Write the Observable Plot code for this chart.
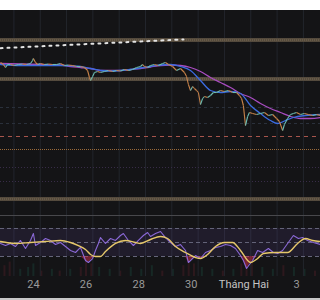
<!DOCTYPE html>
<html><head><meta charset="utf-8">
<script src="https://cdn.jsdelivr.net/npm/d3@7"></script>
<script src="https://cdn.jsdelivr.net/npm/@observablehq/plot@0.6"></script>
<style>
html,body{margin:0;padding:0;background:#fff;}
#wrap{position:relative;width:320px;height:300px;overflow:hidden;background:#fff;font-family:Roboto,"Noto Sans",sans-serif;}
#dark{position:absolute;left:0;top:10px;width:320px;height:288px;background:#141416;}
#bottomline{position:absolute;left:0;top:298px;width:320px;height:2px;background:#c8c8c8;}
#sep{position:absolute;left:0;top:215px;width:320px;height:1px;background:#48484c;}
</style></head>
<body><div id="wrap"><div id="dark"></div><div id="bottomline"></div></div>
<script>
// ---- data ----
const xDomain = [22.75, 34.91];
const gridDays = [23.26,24.26,25.26,26.26,27.26,28.26,29.26,30.26,31.26,32.26,33.26,34.26];
const tickDays = [24, 26, 28, 30, 32, 34];
const tickLabels = ["24", "26", "28", "30", "Tháng Hai", "3"];

const priceDays = [
22.75,22.86,22.94,23.02,23.13,23.28,23.43,23.59,23.74,23.89,
23.97,24.00,24.08,24.16,24.27,24.42,24.57,24.73,24.88,25.03,
25.18,25.33,25.49,25.64,25.79,25.94,26.06,26.13,26.17,26.25,
26.32,26.44,26.55,26.70,26.85,27.01,27.16,27.31,27.46,27.61,
27.77,27.92,28.07,28.15,28.22,28.34,28.45,28.60,28.75,28.91,
29.02,29.13,29.29,29.44,29.59,29.74,29.82,29.89,29.97,30.05,
30.12,30.20,30.27,30.35,30.43,30.50,30.62,30.73,30.84,30.96,
31.11,31.26,31.41,31.57,31.72,31.83,31.91,31.98,32.06,32.14,
32.21,32.33,32.48,32.63,32.78,32.93,33.09,33.24,33.35,33.47,
33.54,33.66,33.77,33.88,34.00,34.15,34.30,34.45,34.61,34.76,
34.91];
const prices = [
44.8,44.6,44.3,44.6,44.6,44.5,44.6,44.65,44.6,44.7,
45.0,45.2,44.8,44.6,44.7,44.6,44.65,44.6,44.6,44.7,
44.5,44.55,44.5,44.4,44.4,44.3,44.0,43.3,43.0,43.4,
43.8,43.9,43.8,43.9,44.0,43.9,44.0,43.95,44.1,44.0,
44.1,44.3,44.4,44.6,44.4,44.3,44.5,44.6,44.5,44.7,
44.8,44.6,44.4,44.0,44.2,43.8,43.4,42.6,42.0,42.4,
42.2,42.0,41.8,40.6,41.2,41.4,41.3,41.5,41.8,41.8,
42.0,41.9,42.0,41.8,41.8,41.5,41.2,40.5,38.5,39.4,
39.8,39.7,39.6,39.7,39.8,39.5,39.6,39.2,38.9,38.0,
38.6,39.2,39.6,39.7,39.8,39.6,39.7,39.6,39.5,39.6,
39.5];

const blueDays = [22.75,23.51,24.27,25.03,25.79,26.17,26.55,26.93,27.31,27.69,28.07,28.45,28.83,29.21,29.59,29.97,30.35,30.73,31.11,31.49,31.87,32.25,32.63,33.01,33.28,33.58,33.88,34.34,34.91];
const blueMA = [44.6,44.5,44.5,44.5,44.4,44.2,44.0,43.95,44.0,44.1,44.25,44.4,44.55,44.6,44.4,44.0,43.0,42.0,41.8,41.9,41.7,40.5,39.7,39.0,38.7,39.0,39.3,39.5,39.6];

const purpleDays = [22.75,23.51,24.27,25.03,25.41,25.79,26.17,26.55,26.93,27.31,27.69,28.07,28.45,28.83,29.21,29.59,29.97,30.35,30.73,31.11,31.49,31.87,32.25,32.63,33.01,33.39,33.77,34.15,34.53,34.91];
const purpleMA = [44.7,44.65,44.6,44.55,44.4,44.3,44.2,44.0,44.0,44.0,44.1,44.2,44.35,44.5,44.55,44.5,44.3,43.9,43.3,42.8,42.3,41.7,41.3,40.7,40.2,39.8,39.4,39.2,39.2,39.3];

const trendDays = [22.75, 29.70];
const trendPrices = [46.23, 47.11];

const bandLevels = [47.05, 43.15, 31.15];
const faintLevels = [40.3, 38.7];
const redDashLevels = [37.4];
const orangeDotLevels = [36.1];
const purpleLevels = [34.3, 32.9];

const rsiDays = [
22.75,22.94,23.13,23.32,23.51,23.70,23.89,24.00,24.08,24.27,
24.46,24.65,24.84,25.03,25.22,25.41,25.60,25.79,25.98,26.09,
26.25,26.36,26.47,26.55,26.74,26.93,27.12,27.31,27.42,27.61,
27.80,27.99,28.18,28.34,28.45,28.64,28.83,29.02,29.21,29.40,
29.59,29.78,29.89,29.97,30.16,30.35,30.54,30.73,30.92,31.11,
31.30,31.49,31.68,31.87,31.98,32.10,32.21,32.33,32.52,32.71,
32.93,33.12,33.28,33.47,33.66,33.88,34.07,34.23,34.42,34.64,
34.91];
const rsi = [
48.6,45.7,48.6,44.3,52.9,41.4,52.9,62.9,45.7,50.0,
55.7,52.9,47.1,50.0,44.3,38.6,35.7,42.9,24.3,21.4,
27.1,38.6,48.6,57.1,48.6,55.7,52.9,60.0,62.9,52.9,
45.7,52.9,60.0,64.3,58.6,62.9,65.7,57.1,50.0,44.3,
47.1,38.6,21.4,24.3,31.4,27.1,35.7,38.6,42.9,44.3,
47.1,45.7,41.4,31.4,24.3,12.9,18.6,24.3,38.6,35.7,
41.4,35.7,34.3,38.6,48.6,60.0,55.7,57.1,52.9,50.0,
47.1];

const rsiMaDays = [22.75,23.32,23.89,24.46,25.03,25.41,25.71,25.98,26.17,26.36,26.55,26.74,27.12,27.50,27.88,28.07,28.45,28.83,29.10,29.40,29.78,30.16,30.35,30.62,30.92,31.26,31.57,31.87,32.25,32.52,32.74,33.20,33.66,34.04,34.34,34.61,34.91];
const rsiMA = [51.4,48.6,50.0,51.4,52.9,50.0,45.7,40.0,32.9,30.0,30.0,37.1,48.6,52.9,50.0,48.6,54.3,58.6,55.7,44.3,35.7,28.6,27.1,32.9,44.3,50.0,50.0,38.6,21.4,27.1,34.3,35.7,35.7,48.6,55.7,52.9,51.4];

const rsiLevels = [70, 50, 30];

const volDays = [22.9,23.1,23.5,23.8,24.0,24.3,24.7,25.0,25.4,25.8,26.0,26.2,26.5,26.9,27.3,27.7,28.1,28.5,28.9,29.3,29.7,29.9,30.1,30.4,30.8,31.2,31.6,31.9,32.1,32.3,32.7,33.1,33.5,33.9,34.3,34.7];
const volumes = [6,8,4,5,7,3,4,3,4,5,9,7,5,4,3,5,4,6,3,4,6,9,7,5,4,3,4,7,10,8,5,4,6,5,4,3];
const volDir = ["d","d","u","u","u","d","u","d","u","d","d","d","u","u","d","u","u","u","d","u","d","d","d","u","u","d","u","d","d","d","u","u","d","u","u","d"];

// ---- build ----
const wrap = document.getElementById("wrap");
const priceRows = priceDays.map((d, i) => ({d, p: prices[i]}));
const segs = priceRows.slice(1).map((r, i) => ({
  x1: priceRows[i].d, y1: priceRows[i].p, x2: r.d, y2: r.p,
  c: r.p >= priceRows[i].p ? "#6cbcb2" : "#c8834a"
}));
const blueRows = blueDays.map((d, i) => ({d, p: blueMA[i]}));
const purpleRows = purpleDays.map((d, i) => ({d, p: purpleMA[i]}));
const trendRows = trendDays.map((d, i) => ({d, p: trendPrices[i]}));

function place(el, top) {
  el.style.position = "absolute";
  el.style.left = "0px";
  el.style.top = top + "px";
  wrap.appendChild(el);
}

const pricePlot = Plot.plot({
  width: 320, height: 205, margin: 0,
  x: {domain: xDomain, axis: null},
  y: {domain: [29.5, 50], axis: null},
  style: {background: "transparent", overflow: "visible"},
  marks: [
    Plot.ruleX(gridDays, {stroke: "#22252c"}),
    Plot.ruleY(faintLevels, {stroke: "#2a303b", strokeDasharray: "3 3"}),
    Plot.ruleY(redDashLevels, {stroke: "#a8554c", strokeDasharray: "4 4"}),
    Plot.ruleY(orangeDotLevels, {stroke: "#9a6a3a", strokeDasharray: "1 1"}),
    Plot.ruleY(purpleLevels, {stroke: "#382c48", strokeDasharray: "1 2"}),
    Plot.ruleY(bandLevels, {stroke: "#544a3d", strokeWidth: 4}),
    Plot.ruleY(bandLevels, {stroke: "#7d6d54", strokeWidth: 1, strokeDasharray: "1 1"}),
    Plot.line(trendRows, {x: "d", y: "p", stroke: "#e4e4e4", strokeWidth: 2, strokeDasharray: "2 5"}),
    Plot.line(purpleRows, {x: "d", y: "p", stroke: "#a84cc0", strokeWidth: 1.3, curve: "monotone-x"}),
    Plot.line(blueRows, {x: "d", y: "p", stroke: "#3b6be0", strokeWidth: 1.3, curve: "monotone-x"}),
    Plot.link(segs, {x1: "x1", y1: "y1", x2: "x2", y2: "y2", stroke: "c", strokeWidth: 1.1})
  ]
});
place(pricePlot, 10);

const volRows = volDays.map((d, i) => ({d, v: volumes[i], c: volDir[i] === "u" ? "#1f5a48" : "#6a2430"}));
const volPlot = Plot.plot({
  width: 320, height: 18, margin: 0,
  x: {domain: xDomain, axis: null},
  y: {domain: [0, 10], axis: null},
  style: {background: "transparent"},
  marks: [
    Plot.ruleX(volRows, {x: "d", y1: () => 0, y2: "v", stroke: "c", strokeWidth: 2, strokeOpacity: 0.3})
  ]
});
place(volPlot, 258);

const rsiRows = rsiDays.map((d, i) => ({d, v: rsi[i]}));
const rsiMaRows = rsiMaDays.map((d, i) => ({d, v: rsiMA[i]}));
const labelRows = tickDays.map((d, i) => ({d, t: tickLabels[i]}));
const rsiPlot = Plot.plot({
  width: 320, height: 85, marginTop: 0, marginBottom: 24, marginLeft: 0, marginRight: 0,
  x: {domain: xDomain, axis: null},
  y: {domain: [1.43, 88.57], axis: null},
  style: {background: "transparent", overflow: "visible", fontFamily: "Roboto, 'Noto Sans', sans-serif"},
  marks: [
    Plot.ruleX(gridDays, {stroke: "#22252c"}),
    Plot.rect([{lo: 30, hi: 70}], {x1: () => xDomain[0], x2: () => xDomain[1], y1: "lo", y2: "hi", fill: "#7e57c2", fillOpacity: 0.12}),
    Plot.ruleY(rsiLevels, {stroke: "#65657a", strokeDasharray: "4 3", strokeWidth: 1}),
    Plot.areaY(rsiRows, {x: "d", y1: r => Math.min(r.v, 30), y2: () => 30, fill: "#d0304c", fillOpacity: 0.5}),
    Plot.line(rsiRows, {x: "d", y: "v", stroke: "#8a68d6", strokeWidth: 1.1}),
    Plot.line(rsiMaRows, {x: "d", y: "v", stroke: "#e6c86a", strokeWidth: 1.4, curve: "monotone-x"}),
    Plot.text(labelRows.filter(r => r.t !== "Tháng Hai"), {x: "d", text: "t", frameAnchor: "bottom", dy: 11, fill: "#9a9a9a", fontSize: 11}),
    Plot.text(labelRows.filter(r => r.t === "Tháng Hai"), {x: "d", text: "t", frameAnchor: "bottom", dy: 11, fill: "#c4c4c4", fontSize: 11})
  ]
});
place(rsiPlot, 215);

const sep = document.createElement("div");
sep.id = "sep";
wrap.appendChild(sep);
</script>
</body></html>
